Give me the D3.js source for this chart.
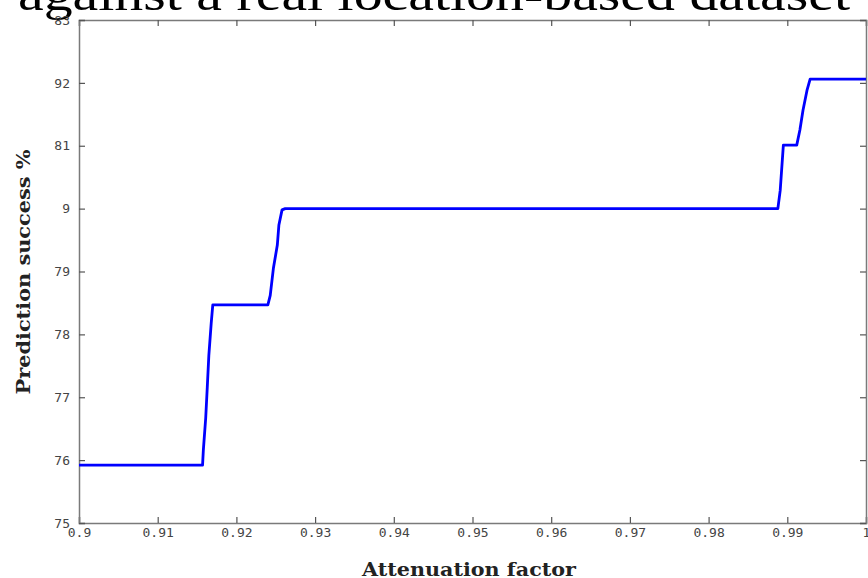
<!DOCTYPE html>
<html>
<head>
<meta charset="utf-8">
<script src="https://cdn.jsdelivr.net/npm/d3@7"></script>
<style>
  body { margin: 0; background: #fff; }
  svg { display: block; }
</style>
</head>
<body>
<div id="chart"></div>
<script>
// Chart data
var attenuation = [0.900, 0.9157, 0.9158, 0.9161, 0.9163, 0.9165, 0.9168, 0.9170, 0.9240,
    0.9243, 0.9247, 0.9252, 0.9254, 0.9258, 0.9262, 0.9888, 0.9891, 0.9895, 0.9912,
    0.9916, 0.9920, 0.9925, 0.9929, 1.000];
var success = [75.92, 75.92, 76.16, 76.67, 77.16, 77.67, 78.18, 78.47, 78.47,
    78.62, 79.05, 79.42, 79.74, 79.98, 80.0, 80.0, 80.29, 81.01, 81.01,
    81.25, 81.57, 81.88, 82.06, 82.06];
var xTicks = [0.9, 0.91, 0.92, 0.93, 0.94, 0.95, 0.96, 0.97, 0.98, 0.99, 1];
var xTickLabels = ["0.9", "0.91", "0.92", "0.93", "0.94", "0.95", "0.96", "0.97", "0.98", "0.99", "1"];
var yTicks = [83, 82, 81, 80, 79, 78, 77, 76, 75];
var yTickLabels = ["83", "92", "81", "9", "79", "78", "77", "76", "75"];

// Set svg height and width
var svgWidth = 868;
var svgHeight = 578;

// Plot area edges
var margin = { top: 20, right: 2, bottom: 55, left: 79 };
var chartWidth = svgWidth - margin.left - margin.right;
var chartHeight = svgHeight - margin.top - margin.bottom;

var svg = d3.select("#chart")
    .append("svg")
    .attr("width", svgWidth)
    .attr("height", svgHeight);

// Cropped caption at the very top
svg.append("text")
    .attr("x", 18)
    .attr("y", 10)
    .attr("textLength", 832)
    .attr("lengthAdjust", "spacingAndGlyphs")
    .style("font-family", "'Liberation Serif', 'DejaVu Serif', serif")
    .style("font-size", "46px")
    .style("fill", "#000")
    .text("against a real location-based dataset");

var chartGroup = svg.append("g")
    .attr("transform", `translate(${margin.left}, ${margin.top})`);

var xScale = d3.scaleLinear().domain([0.9, 1]).range([0, chartWidth]);
var yScale = d3.scaleLinear().domain([75, 83]).range([chartHeight, 0]);

// Axes: ticks point inward, mirrored on top and right
var bottomAxis = d3.axisBottom(xScale).tickValues(xTicks).tickSize(-6).tickPadding(5)
    .tickFormat((d, i) => xTickLabels[i]);
var topAxis = d3.axisTop(xScale).tickValues(xTicks).tickSize(-6).tickFormat("");
var leftAxis = d3.axisLeft(yScale).tickValues(yTicks).tickSize(-6).tickPadding(9)
    .tickFormat((d, i) => yTickLabels[i]);
var rightAxis = d3.axisRight(yScale).tickValues(yTicks).tickSize(-6).tickFormat("");

chartGroup.append("g").attr("class", "axis")
    .attr("transform", `translate(0, ${chartHeight})`).call(bottomAxis);
chartGroup.append("g").attr("class", "axis").call(topAxis);
chartGroup.append("g").attr("class", "axis").call(leftAxis);
chartGroup.append("g").attr("class", "axis")
    .attr("transform", `translate(${chartWidth}, 0)`).call(rightAxis);

chartGroup.selectAll(".axis path")
    .attr("stroke", "#7a7a7a")
    .attr("stroke-width", 1.5);
chartGroup.selectAll(".axis line")
    .attr("stroke", "#555")
    .attr("stroke-width", 1.2);
chartGroup.selectAll(".axis text")
    .style("font-family", "'DejaVu Sans Mono', monospace")
    .style("font-size", "13px")
    .style("fill", "#444");

// The blue success curve
var points = attenuation.map((a, i) => [a, success[i]]);
var line = d3.line()
    .x(d => xScale(d[0]))
    .y(d => yScale(d[1]));

chartGroup.append("path")
    .datum(points)
    .attr("d", line)
    .attr("fill", "none")
    .attr("stroke", "#0000ff")
    .attr("stroke-width", 2.8)
    .attr("stroke-linejoin", "round");

// Axis titles
svg.append("text")
    .attr("x", 469)
    .attr("y", 576)
    .attr("text-anchor", "middle")
    .attr("textLength", 214)
    .attr("lengthAdjust", "spacingAndGlyphs")
    .style("font-family", "'DejaVu Serif', serif")
    .style("font-weight", "bold")
    .style("font-size", "19px")
    .style("fill", "#222")
    .text("Attenuation factor");

svg.append("text")
    .attr("transform", "translate(30, 272) rotate(-90)")
    .attr("text-anchor", "middle")
    .attr("textLength", 245)
    .attr("lengthAdjust", "spacingAndGlyphs")
    .style("font-family", "'DejaVu Serif', serif")
    .style("font-weight", "bold")
    .style("font-size", "19px")
    .style("fill", "#222")
    .text("Prediction success %");
</script>
</body>
</html>
